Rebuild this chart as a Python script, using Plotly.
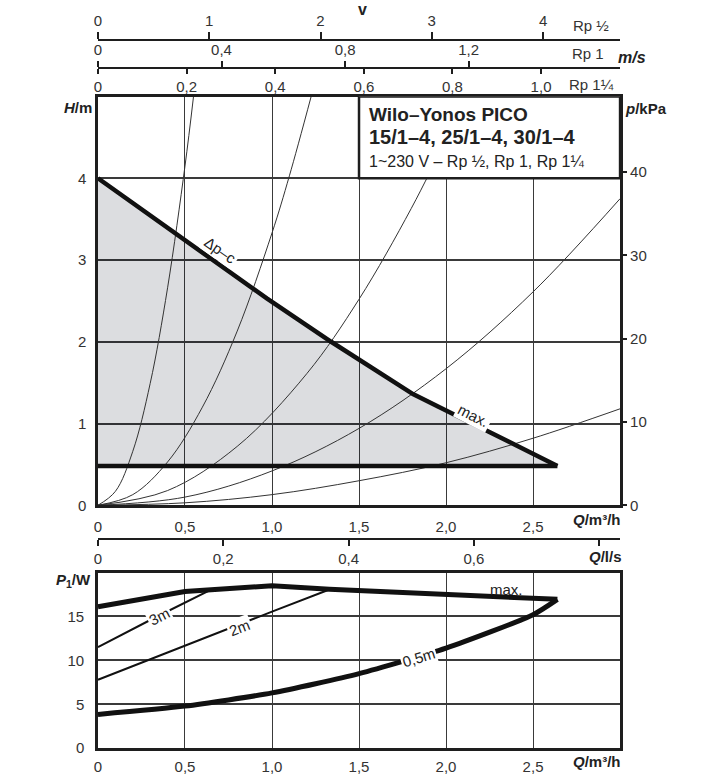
import plotly.graph_objects as go

# ---------------- data ----------------
# upper chart: H/m over Q/m3/h
Q_dpc = [0, 0.44, 0.97, 1.34, 1.81, 2.0, 2.64]
H_dpc = [4.0, 3.33, 2.53, 2.0, 1.36, 1.16, 0.48]
Q_min = [0, 2.64]
H_min = [0.48, 0.48]

# system curves (thin)
Q_sys1 = [0, 0.1, 0.2, 0.3, 0.4, 0.5, 0.549]
H_sys1 = [0, 0.17, 0.66, 1.49, 2.66, 4.15, 5.0]
Q_sys2 = [0, 0.2, 0.4, 0.6, 0.8, 1.0, 1.1, 1.225]
H_sys2 = [0, 0.13, 0.53, 1.2, 2.13, 3.33, 4.03, 5.0]
Q_sys3 = [0, 0.4, 0.8, 1.2, 1.5, 1.8, 2.0, 2.113]
H_sys3 = [0, 0.18, 0.72, 1.61, 2.52, 3.63, 4.48, 5.0]
Q_sys4 = [0, 0.5, 1.0, 1.5, 2.0, 2.5, 3.0]
H_sys4 = [0, 0.10, 0.42, 0.94, 1.67, 2.61, 3.75]
Q_sys5 = [0, 0.5, 1.0, 1.5, 2.0, 2.5, 3.0]
H_sys5 = [0, 0.03, 0.13, 0.30, 0.52, 0.82, 1.18]

# lower chart: P1/W over Q/m3/h
Q_pmax = [0, 0.5, 0.65, 1.0, 1.33, 1.5, 2.0, 2.5, 2.64]
P_pmax = [16.1, 17.85, 18.05, 18.5, 18.1, 17.95, 17.4, 16.95, 16.95]
Q_p05 = [0, 0.5, 1.0, 1.5, 2.0, 2.5, 2.64]
P_p05 = [3.85, 4.8, 6.3, 8.5, 11.4, 15.2, 16.95]
Q_p3 = [0, 0.32, 0.65]
P_p3 = [11.5, 14.8, 18.05]
Q_p2 = [0, 0.5, 1.0, 1.33]
P_p2 = [7.8, 11.7, 15.55, 18.07]

# tick labels
Q_ticks = [0, 0.5, 1.0, 1.5, 2.0, 2.5]
Q_ticktext = ["0", "0,5", "1,0", "1,5", "2,0", "2,5"]
H_ticks = [0, 1, 2, 3, 4]
p_ticks = [0, 10, 20, 30, 40]
P_ticks = [0, 5, 10, 15]
ls_ticks = [0, 0.2, 0.4, 0.6]
ls_ticktext = ["0", "0,2", "0,4", "0,6"]
ls_extra_ticks = [0.8]
v12_ticks = [0, 1, 2, 3, 4]
v1_ticks = [0, 0.4, 0.8, 1.2]
v1_ticktext = ["0", "0,4", "0,8", "1,2"]
v114_ticks = [0, 0.2, 0.4, 0.6, 0.8, 1.0]
v114_ticktext = ["0", "0,2", "0,4", "0,6", "0,8", "1,0"]

# scale factors (m3/h per m/s for each pipe size), m3/h per l/s, kPa per m
Q_MAX = 3.0
F_RP12, F_RP1, F_RP114 = 0.6394, 1.775, 2.546
F_LS = 3.6
KPA_PER_M = 9.81

# ---------------- styling ----------------
W, H = 720, 780
FONT = "Liberation Sans Narrow, Liberation Sans, Noto Sans, sans-serif"
TXT = "#222222"
TICKC = "#333333"
GRID = "#3a3a3a"
BORDER = "#1e1e1e"

def px(x):
    return x / W

def py(y):
    return 1 - y / H

XDOM = [px(94.5), px(619.5)]
YDOM_TOP = [py(510.5), py(97.5)]
YDOM_BOT = [py(756), py(578.5)]

fig = go.Figure()

# gray operating field
fig.add_trace(go.Scatter(x=Q_min, y=H_min, mode="lines", line=dict(width=0),
                         hoverinfo="skip", showlegend=False))
fig.add_trace(go.Scatter(x=Q_dpc, y=H_dpc, mode="lines", line=dict(width=0),
                         fill="tonexty", fillcolor="rgba(0,7,29,0.137)",
                         hoverinfo="skip", showlegend=False))
# thin system curves
for qs, hs in [(Q_sys1, H_sys1), (Q_sys2, H_sys2), (Q_sys3, H_sys3),
               (Q_sys4, H_sys4), (Q_sys5, H_sys5)]:
    fig.add_trace(go.Scatter(x=qs, y=hs, mode="lines",
                             line=dict(color="#333333", width=1, shape="spline"),
                             hoverinfo="skip", showlegend=False))
# thick pump curves
fig.add_trace(go.Scatter(x=Q_dpc, y=H_dpc, mode="lines",
                         line=dict(color="#111111", width=4.5),
                         hoverinfo="skip", showlegend=False))
fig.add_trace(go.Scatter(x=Q_min, y=H_min, mode="lines",
                         line=dict(color="#111111", width=4.5),
                         hoverinfo="skip", showlegend=False))

# lower chart curves
fig.add_trace(go.Scatter(x=Q_p3, y=P_p3, xaxis="x2", yaxis="y3", mode="lines",
                         line=dict(color="#111111", width=2),
                         hoverinfo="skip", showlegend=False))
fig.add_trace(go.Scatter(x=Q_p2, y=P_p2, xaxis="x2", yaxis="y3", mode="lines",
                         line=dict(color="#111111", width=2),
                         hoverinfo="skip", showlegend=False))
fig.add_trace(go.Scatter(x=Q_pmax, y=P_pmax, xaxis="x2", yaxis="y3", mode="lines",
                         line=dict(color="#111111", width=5),
                         hoverinfo="skip", showlegend=False))
fig.add_trace(go.Scatter(x=Q_p05, y=P_p05, xaxis="x2", yaxis="y3", mode="lines",
                         line=dict(color="#111111", width=5, shape="spline", smoothing=0.6),
                         hoverinfo="skip", showlegend=False))

# invisible anchors for the auxiliary axes
for xa, ya in [("x", "y2"), ("x3", "y"), ("x4", "y"), ("x5", "y"), ("x6", "y"), ("x7", "y")]:
    fig.add_trace(go.Scatter(x=[0], y=[0], xaxis=xa, yaxis=ya, mode="markers",
                             marker=dict(opacity=0), hoverinfo="skip", showlegend=False))

tickfont = dict(family=FONT, size=15, color=TICKC)
common_frame = dict(showline=True, linecolor=BORDER, linewidth=2.5, mirror=True,
                    zeroline=False, tickfont=tickfont)

fig.update_layout(
    width=W, height=H,
    margin=dict(l=0, r=0, t=0, b=0),
    paper_bgcolor="white", plot_bgcolor="white",
    showlegend=False,
    xaxis=dict(domain=XDOM, anchor="y", range=[0, Q_MAX],
               tickvals=Q_ticks, ticktext=Q_ticktext,
               ticks="outside", ticklen=6, tickcolor="rgba(0,0,0,0)",
               showgrid=True, gridcolor=GRID, gridwidth=1, **common_frame),
    yaxis=dict(domain=YDOM_TOP, anchor="x", range=[0, 5],
               tickvals=H_ticks, ticks="outside", ticklen=6, tickcolor="rgba(0,0,0,0)",
               showgrid=True, gridcolor=GRID, gridwidth=1.6, **common_frame),
    yaxis2=dict(overlaying="y", side="right", anchor="x", range=[0, 5 * KPA_PER_M],
                tickvals=p_ticks, ticks="outside", ticklen=6, tickwidth=2,
                tickcolor=BORDER, showgrid=False, showline=False, zeroline=False,
                tickfont=tickfont),
    xaxis2=dict(domain=XDOM, anchor="y3", range=[0, Q_MAX],
                tickvals=Q_ticks, ticktext=Q_ticktext,
                ticks="outside", ticklen=3, tickcolor="rgba(0,0,0,0)",
                showgrid=True, gridcolor=GRID, gridwidth=1, **common_frame),
    yaxis3=dict(domain=YDOM_BOT, anchor="x2", range=[0, 20],
                tickvals=P_ticks, ticks="outside", ticklen=8, tickcolor="rgba(0,0,0,0)",
                showgrid=True, gridcolor=GRID, gridwidth=1.6, **common_frame),
    xaxis3=dict(overlaying="x", anchor="free", position=py(545), side="bottom",
                range=[0, Q_MAX / F_LS], tickvals=ls_ticks, ticktext=ls_ticktext,
                ticks="outside", ticklen=6, tickwidth=2, tickcolor=BORDER,
                showline=True, linecolor=BORDER, linewidth=2, showgrid=False,
                zeroline=False, tickfont=tickfont),
    xaxis7=dict(overlaying="x", anchor="free", position=py(545), side="bottom",
                range=[0, Q_MAX / F_LS], tickvals=ls_extra_ticks, showticklabels=False,
                ticks="outside", ticklen=6, tickwidth=2, tickcolor=BORDER,
                showline=False, showgrid=False, zeroline=False),
    xaxis4=dict(overlaying="x", anchor="free", position=py(40), side="top",
                range=[0, Q_MAX / F_RP12], tickvals=v12_ticks,
                ticks="outside", ticklen=7, tickwidth=2, tickcolor=BORDER,
                showline=True, linecolor=BORDER, linewidth=2, showgrid=False,
                zeroline=False, tickfont=tickfont),
    xaxis5=dict(overlaying="x", anchor="free", position=py(69), side="top",
                range=[0, Q_MAX / F_RP1], tickvals=v1_ticks, ticktext=v1_ticktext,
                ticks="outside", ticklen=6, tickwidth=2, tickcolor=BORDER,
                showline=True, linecolor=BORDER, linewidth=2, showgrid=False,
                zeroline=False, tickfont=tickfont),
    xaxis6=dict(overlaying="x", anchor="free", position=py(69), side="bottom",
                range=[0, Q_MAX / F_RP114], tickvals=v114_ticks, ticktext=v114_ticktext,
                ticks="outside", ticklen=5, tickwidth=2, tickcolor=BORDER,
                showline=True, linecolor=BORDER, linewidth=2, showgrid=False,
                zeroline=False, tickfont=tickfont),
)

# title box
fig.add_shape(type="rect", xref="x", yref="y", x0=1.5, x1=Q_MAX, y0=4, y1=5,
              fillcolor="white", line=dict(color=BORDER, width=2.5), layer="above")

ann = []
def label(text, x, y, size=15, angle=0, bg=None, xanchor="center", color=TXT):
    d = dict(text=text, xref="paper", yref="paper", x=px(x), y=py(y),
             xanchor=xanchor, yanchor="middle", showarrow=False, textangle=angle,
             font=dict(family=FONT, size=size, color=color))
    if bg:
        d["bgcolor"] = bg
        d["borderpad"] = 1
    ann.append(d)

label("<b>Wilo–Yonos PICO</b>", 365, 116, size=19, xanchor="left")
label("<b>15/1–4, 25/1–4, 30/1–4</b>", 365, 138, size=20, xanchor="left")
label("1~230 V – Rp ½, Rp 1, Rp 1¼", 365, 163, size=16, xanchor="left")

label("<b>v</b>", 360, 10, size=16)
label("Rp ½", 590, 26, size=15, color=TICKC)
label("Rp 1", 587, 54.5, size=15, color=TICKC)
label("<b><i>m/s</i></b>", 632, 58, size=16)
label("Rp 1¼", 591, 85.5, size=15, color=TICKC)

label("<b><i>H</i>/m</b>", 74, 109, size=15)
label("<b><i>p</i>/kPa</b>", 646, 110, size=15)
label("<b><i>Q</i>/m³/h</b>", 596, 525, size=15)
label("<b><i>Q</i>/l/s</b>", 605, 562, size=15)
label("<b><i>P</i><sub>1</sub>/W</b>", 70, 587, size=15)
label("<b><i>Q</i>/m³/h</b>", 596, 769, size=15)

label("Δp–c", 218, 253, size=15, angle=35, bg="white")
label("max.", 472, 420, size=15, angle=27, bg="white")
label("3m", 156, 623, size=15, angle=-27, bg="white")
label("2m", 237, 634, size=15, angle=-21, bg="white")
label("0,5m", 417, 664, size=15, angle=-17, bg="white")
label("max.", 505, 596, size=15)

fig.update_layout(annotations=ann)
fig.write_html("out.html")
